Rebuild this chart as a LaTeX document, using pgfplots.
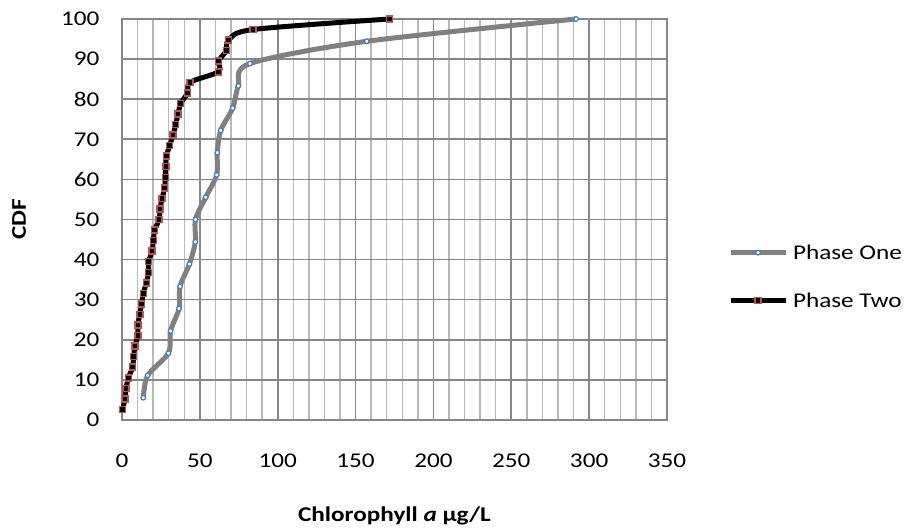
\documentclass[border=0pt]{standalone}
\usepackage{fontspec}
\setmainfont{Carlito}[FakeStretch=1.2]
\usepackage{pgfplots}
\pgfplotsset{compat=1.18}
\definecolor{gridmaj}{RGB}{134,134,134}
\definecolor{gridmin}{RGB}{185,185,185}
\definecolor{p1line}{RGB}{128,128,128}
\definecolor{p1mark}{RGB}{74,126,193}
\definecolor{p2mark}{RGB}{192,80,77}
\pgfplotstableread{
x y
13.7 5.56
16.5 11.11
29.8 16.67
31.2 22.22
36.6 27.78
37.3 33.33
43.3 38.89
47.1 44.44
47.2 50.00
53.8 55.56
60.8 61.11
61.2 66.67
63.4 72.22
71.1 77.78
74.7 83.33
82.2 88.89
157.2 94.44
291.6 100
}\phaseone
\pgfplotstableread{
x y
0.4 2.63
1.9 5.26
2.6 7.89
4.1 10.53
6.8 13.16
7.5 15.79
8.3 18.42
10.2 21.05
10.2 23.68
11.4 26.32
12.6 28.95
13.7 31.58
15.6 34.21
17.1 36.84
17.1 39.47
19.3 42.11
20.1 44.74
21.0 47.37
23.8 50.00
24.5 52.63
25.7 55.26
27.4 57.89
27.8 60.53
28.1 63.16
28.5 65.79
30.6 68.42
32.8 71.05
34.5 73.68
36.0 76.32
37.7 78.95
42.2 81.58
43.7 84.21
62.0 86.84
62.0 89.47
67.0 92.11
68.5 94.74
84.1 97.37
171.7 100
}\phasetwo
\begin{document}
\begin{tikzpicture}
\useasboundingbox (-122bp,-111bp) rectangle (784bp,420bp);
\begin{axis}[
 at={(0,0)}, anchor=south west,
 scale only axis, width=545bp, height=401bp,
 xmin=0, xmax=350, ymin=0, ymax=100,
 xtick={0,50,...,350}, ytick={0,10,...,100},
 minor x tick num=4,
 xmajorgrids, xminorgrids, ymajorgrids,
 major grid style={draw=gridmaj, line width=1.6bp},
 minor grid style={draw=gridmin, line width=1.4bp},
 axis line style={draw=gridmaj, line width=1.6bp},
 major tick length=0pt, minor tick length=0pt,
 tick style={draw=none},
 /pgf/number format/assume math mode=true,
 ticklabel style={font=\fontsize{21bp}{25bp}\selectfont},
 xticklabel style={yshift=-30bp},
 yticklabel style={xshift=-19bp},
 xlabel={\textbf{Chlorophyll \textit{a} µg/L}},
 ylabel={\textbf{CDF}},
 label style={font=\fontsize{21bp}{25bp}\selectfont},
 xlabel style={at={(axis description cs:0.5,-0.24)}, anchor=center},
 ylabel style={at={(axis description cs:-0.189,0.5)}, anchor=center},
 clip=false,
 legend image code/.code={\draw[mark repeat=2,mark phase=2,#1] plot coordinates {(0bp,0bp) (27.5bp,0bp) (55bp,0bp)};},
 legend style={at={(axis description cs:1.112,0.3574)}, anchor=west, draw=none, fill=none,
   inner sep=0pt, outer sep=0pt, row sep=30bp, column sep=3bp,
   font=\fontsize{21bp}{25bp}\selectfont,
   nodes={inner xsep=2bp, inner ysep=2bp, text height=14bp, text depth=0bp}},
 legend cell align=left,
]
\addplot[p1line, line width=5bp, smooth, mark=*, mark size=2.3bp,
  mark options={draw=p1mark, fill=white, line width=1.3bp}] table {\phaseone};
\addlegendentry{Phase One}
\addplot[black, line width=5bp, smooth, mark=square*, mark size=3bp,
  mark options={draw=p2mark, fill=black, line width=1.5bp}] table {\phasetwo};
\addlegendentry{Phase Two}
\end{axis}
\end{tikzpicture}
\end{document}
